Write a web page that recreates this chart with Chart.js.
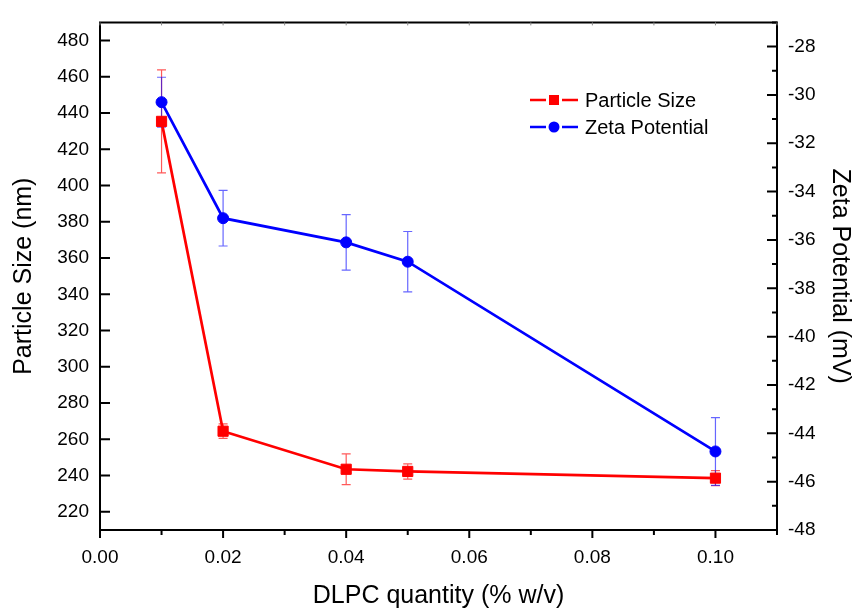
<!DOCTYPE html>
<html><head><meta charset="utf-8">
<script src="https://cdn.jsdelivr.net/npm/chart.js@4/dist/chart.umd.min.js"></script>
<style>html,body{margin:0;padding:0;background:#fff}</style>
</head>
<body>
<canvas id="c" width="855" height="609"></canvas>
<script>
// ---- data ----
const quantities      = [0.01, 0.02, 0.04, 0.05, 0.10];
const particleSize    = [435.4, 264.5, 243.5, 242.3, 238.6];
const particleSizeErr = [28.4, 4.0, 8.5, 4.2, 4.2];
const zetaPotential   = [-30.3, -35.1, -36.1, -36.9, -44.75];
const zetaErr         = [1.03, 1.15, 1.15, 1.25, 1.4];

const xTickValues     = [0.00, 0.02, 0.04, 0.06, 0.08, 0.10];
const xMinorValues    = [0.01, 0.03, 0.05, 0.07, 0.09, 0.11];
const leftTickValues  = [220, 240, 260, 280, 300, 320, 340, 360, 380, 400, 420, 440, 460, 480];
const rightTickValues = [-48, -46, -44, -42, -40, -38, -36, -34, -32, -30, -28];
const rightMinorValues= [-47, -45, -43, -41, -39, -37, -35, -33, -31, -29, -27];

const seriesNames = ['Particle Size', 'Zeta Potential'];
const RED = '#ff0000', BLUE = '#0000ff';
const FONT = "'Liberation Sans', Arial, sans-serif";

const errorBars = {
  id: 'errorBars',
  beforeDatasetsDraw(chart) {
    const ctx = chart.ctx, x = chart.scales.x;
    const sets = [
      {vals: particleSize, errs: particleSizeErr, scale: chart.scales.y, color: 'rgba(255,0,0,0.65)'},
      {vals: zetaPotential, errs: zetaErr, scale: chart.scales.y2, color: 'rgba(0,0,255,0.6)'}
    ];
    ctx.save();
    ctx.lineWidth = 1.2;
    sets.forEach(s => {
      ctx.strokeStyle = s.color;
      quantities.forEach((q, i) => {
        const px = x.getPixelForValue(q);
        const y1 = s.scale.getPixelForValue(s.vals[i] + s.errs[i]);
        const y2 = s.scale.getPixelForValue(s.vals[i] - s.errs[i]);
        ctx.beginPath();
        ctx.moveTo(px, y1); ctx.lineTo(px, y2);
        ctx.moveTo(px - 4.5, y1); ctx.lineTo(px + 4.5, y1);
        ctx.moveTo(px - 4.5, y2); ctx.lineTo(px + 4.5, y2);
        ctx.stroke();
      });
    });
    ctx.restore();
  }
};

const frame = {
  id: 'frame',
  afterDraw(chart) {
    const ctx = chart.ctx, a = chart.chartArea;
    const x = chart.scales.x, y = chart.scales.y, y2 = chart.scales.y2;
    ctx.save();
    ctx.strokeStyle = '#000';
    ctx.lineWidth = 2;
    ctx.beginPath();
    ctx.rect(a.left, a.top, a.right - a.left, a.bottom - a.top);
    ctx.stroke();
    ctx.beginPath();
    xTickValues.forEach(v => { const p = x.getPixelForValue(v); ctx.moveTo(p, a.bottom); ctx.lineTo(p, a.bottom + 8); });
    xMinorValues.forEach(v => { const p = x.getPixelForValue(v); ctx.moveTo(p, a.bottom); ctx.lineTo(p, a.bottom + 5); });
    leftTickValues.forEach(v => { const p = y.getPixelForValue(v); ctx.moveTo(a.left, p); ctx.lineTo(a.left + 10, p); });
    rightTickValues.forEach(v => { const p = y2.getPixelForValue(v); ctx.moveTo(a.right, p); ctx.lineTo(a.right - 10, p); });
    rightMinorValues.forEach(v => { const p = y2.getPixelForValue(v); ctx.moveTo(a.right, p); ctx.lineTo(a.right - 5, p); });
    ctx.stroke();
    ctx.lineWidth = 1;
    ctx.strokeStyle = '#888';
    ctx.beginPath();
    xTickValues.concat(xMinorValues).forEach(v => { const p = x.getPixelForValue(v); ctx.moveTo(p, a.top); ctx.lineTo(p, a.top + 3); });
    ctx.stroke();

    // legend
    const items = [
      {name: seriesNames[0], color: RED, style: 'rect', y: 100},
      {name: seriesNames[1], color: BLUE, style: 'circle', y: 127}
    ];
    items.forEach(it => {
      ctx.strokeStyle = it.color; ctx.fillStyle = it.color; ctx.lineWidth = 2.5;
      ctx.beginPath();
      ctx.moveTo(530, it.y); ctx.lineTo(546, it.y);
      ctx.moveTo(562, it.y); ctx.lineTo(578, it.y);
      ctx.stroke();
      ctx.beginPath();
      if (it.style === 'rect') ctx.rect(554 - 5, it.y - 5, 10, 10);
      else ctx.arc(554, it.y, 5.5, 0, Math.PI * 2);
      ctx.fill();
      ctx.fillStyle = '#000';
      ctx.font = '20px ' + FONT;
      ctx.textBaseline = 'middle';
      ctx.textAlign = 'left';
      ctx.fillText(it.name, 585, it.y + 1);
    });
    ctx.restore();
  }
};

const tickFont = {family: FONT, size: 19};
const titleFont = {family: FONT, size: 25, lineHeight: 1};

new Chart(document.getElementById('c'), {
  type: 'line',
  data: {
    datasets: [
      {
        label: seriesNames[0],
        data: quantities.map((q, i) => ({x: q, y: particleSize[i]})),
        yAxisID: 'y',
        borderColor: RED, backgroundColor: RED,
        borderWidth: 2.7,
        pointStyle: 'rect', pointRadius: 7.2, pointBorderWidth: 1,
        pointBorderColor: RED, pointBackgroundColor: RED,
        tension: 0, clip: false
      },
      {
        label: seriesNames[1],
        data: quantities.map((q, i) => ({x: q, y: zetaPotential[i]})),
        yAxisID: 'y2',
        borderColor: BLUE, backgroundColor: BLUE,
        borderWidth: 2.7,
        pointStyle: 'circle', pointRadius: 5.5, pointBorderWidth: 1,
        pointBorderColor: BLUE, pointBackgroundColor: BLUE,
        tension: 0, clip: false
      }
    ]
  },
  options: {
    responsive: false,
    animation: false,
    devicePixelRatio: 1,
    layout: {padding: {top: 13, left: 0, right: 0, bottom: 0}},
    plugins: {legend: {display: false}, tooltip: {enabled: false}},
    scales: {
      x: {
        type: 'linear', position: 'bottom', min: 0, max: 0.11,
        afterBuildTicks: s => { s.ticks = xTickValues.map(v => ({value: v})); },
        afterFit: s => { s.height = 79; },
        ticks: {callback: v => Number(v).toFixed(2), font: tickFont, color: '#000', padding: 16, maxRotation: 0, autoSkip: false},
        grid: {display: false, drawTicks: false},
        border: {display: false},
        title: {display: true, text: 'DLPC quantity (% w/v)', font: titleFont, color: '#000', padding: {top: 0, bottom: 0}}
      },
      y: {
        type: 'linear', position: 'left', min: 210, max: 490,
        afterBuildTicks: s => { s.ticks = leftTickValues.map(v => ({value: v})); },
        afterFit: s => { s.width = 100; },
        ticks: {font: tickFont, color: '#000', padding: 11},
        grid: {display: false, drawTicks: false},
        border: {display: false},
        title: {display: true, text: 'Particle Size (nm)', font: titleFont, color: '#000', padding: {top: 12, bottom: 0}}
      },
      y2: {
        type: 'linear', position: 'right', min: -48, max: -27,
        afterBuildTicks: s => { s.ticks = rightTickValues.map(v => ({value: v})); },
        afterFit: s => { s.width = 78; },
        ticks: {font: tickFont, color: '#000', padding: 11},
        grid: {display: false, drawTicks: false},
        border: {display: false},
        title: {display: true, text: 'Zeta Potential (mV)', font: titleFont, color: '#000', padding: {top: 2.5, bottom: 0}}
      }
    }
  },
  plugins: [errorBars, frame]
});
</script>
</body></html>
